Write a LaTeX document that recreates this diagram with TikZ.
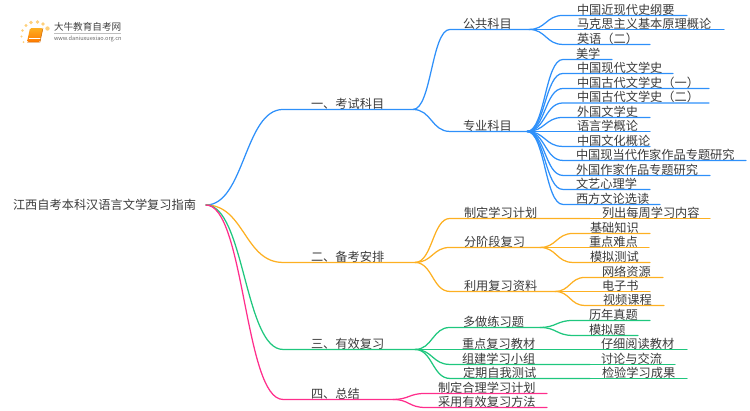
\documentclass[tikz,border=0pt]{standalone}
\usepackage{fontspec}
\setmainfont{Noto Sans CJK SC}
\usetikzlibrary{calc}
\definecolor{cb}{HTML}{2E90FA}
\definecolor{co}{HTML}{FDB022}
\definecolor{cg}{HTML}{1FC77E}
\definecolor{cp}{HTML}{FF2E8C}
\definecolor{tx}{HTML}{3A3A3A}
\tikzset{
  lab/.style={anchor=west,inner sep=0pt,outer sep=0pt,text=tx,font=\fontsize{12.2}{12.2}\selectfont},
  wire/.style={line width=1.25pt,line cap=round,line join=round},
  dotm/.style={fill=#1,draw=none,opacity=.85}
}
% colour, from, bend end, line end
\newcommand\conn[4]{\draw[wire,#1] (#2) let \p1=(#2),\p2=(#3) in .. controls ({(\x1+\x2)/2},\y1) and ({(\x1+\x2)/2},\y2) .. (#3) -- (#4);}
% name, text x, line y, line start x, line end x, text
\newcommand\bitem[6]{\coordinate (#1s) at (#4,#3+.45); \coordinate (#1e) at (#5,#3+.45); \node[lab] (#1) at (#2,#3-5.6) {#6};}
\begin{document}
\begin{tikzpicture}[x=1pt,y=-1pt]
\useasboundingbox (0,0) rectangle (750,410);
% logo
\foreach \a/\b/\r in {26/25.5/1.6,31/22.5/1.8,37.5/22/1.9,43/24/1.9,47.5/28.5/2.2,22.5/30.5/1.4,21.5/36.5/1.2,23.5/42/1}
  \fill[dotm=co!70] (\a,\b) circle (\r);
\shade[top color=co,bottom color=orange!95!red,rounded corners=1.5pt] (30,28) -- (43,28) -- (40,42) -- (27,42) -- cycle;
\draw[white,line width=.6pt] (29,38.5) -- (40.5,38.5);
\draw[orange!80!black,line width=.5pt] (27,42) -- (40,42) -- (43,28);
\node[lab,text=black!75,font=\fontsize{9.6}{10}\selectfont] (logoa) at (54,27) {大牛教育自考网};
\draw[black!25,line width=.4pt] (54,33) -- (121,33);
\node[lab,text=black!60,font=\fontsize{5.6}{6}\selectfont] (logob) at (54,38.5) {www.daniuxuexiao.org.cn};
% root
\node[lab] (root) at (13,205) {江西自考本科汉语言文学复习指南};
\coordinate (r) at (206,205);
% level 1
\bitem{A}{311}{109}{283}{413}{一、考试科目}
\bitem{B}{311}{262}{283}{415}{二、备考安排}
\bitem{C}{311}{349}{283}{415}{三、有效复习}
\bitem{D}{311}{399}{283}{393}{四、总结}
\conn{cb}{r}{As}{Ae}
\conn{co}{r}{Bs}{Be}
\conn{cg}{r}{Cs}{Ce}
\conn{cp}{r}{Ds}{De}
% blue
\bitem{a1}{463}{29}{450}{529}{公共科目}
\bitem{a2}{463}{131}{450}{527}{专业科目}
\conn{cb}{Ae}{a1s}{a1e}
\conn{cb}{Ae}{a2s}{a2e}
\bitem{p1}{577}{15}{563}{687}{中国近现代史纲要}
\bitem{p2}{577}{29}{563}{724}{马克思主义基本原理概论}
\bitem{p3}{577}{44}{563}{650}{英语（二）}
\foreach \kk in {p1,p2,p3} {\conn{cb}{a1e}{\kk s}{\kk e}}
\bitem{q1}{576}{59}{563}{612}{美学}
\bitem{q2}{577}{73}{563}{673}{中国现代文学史}
\bitem{q3}{577}{88}{563}{709}{中国古代文学史（一）}
\bitem{q4}{577}{102.5}{563}{709}{中国古代文学史（二）}
\bitem{q5}{577}{117}{563}{650}{外国文学史}
\bitem{q6}{577}{131}{563}{650}{语言学概论}
\bitem{q7}{577}{146}{563}{650}{中国文化概论}
\bitem{q8}{576}{160}{563}{746}{中国现当代作家作品专题研究}
\bitem{q9}{576}{175}{563}{710}{外国作家作品专题研究}
\bitem{q10}{576}{189}{563}{650}{文艺心理学}
\bitem{q11}{576}{204}{563}{660}{西方文论选读}
\foreach \kk in {q1,q2,q3,q4,q5,q6,q7,q8,q9,q10,q11} {\conn{cb}{a2e}{\kk s}{\kk e}}
% orange
\bitem{b1}{464}{218}{450}{590}{制定学习计划}
\bitem{b2}{464}{247}{450}{540}{分阶段复习}
\bitem{b3}{464}{291}{450}{555}{利用复习资料}
\foreach \kk in {b1,b2,b3} {\conn{co}{Be}{\kk s}{\kk e}}
\bitem{b1a}{602}{218}{590}{710}{列出每周学习内容}
\draw[wire,co] (b1e) -- (b1as) -- (b1ae);
\bitem{s1}{590}{233}{573}{650}{基础知识}
\bitem{s2}{589}{247}{573}{649}{重点难点}
\bitem{s3}{590}{262}{573}{650}{模拟测试}
\foreach \kk in {s1,s2,s3} {\conn{co}{b2e}{\kk s}{\kk e}}
\bitem{t1}{602}{277}{585}{663}{网络资源}
\bitem{t2}{602}{291}{585}{650}{电子书}
\bitem{t3}{603}{305}{585}{664}{视频课程}
\foreach \kk in {t1,t2,t3} {\conn{co}{b3e}{\kk s}{\kk e}}
% green
\bitem{c1}{463}{327}{450}{540}{多做练习题}
\bitem{c2}{462}{349}{450}{590}{重点复习教材}
\bitem{c3}{462}{364}{450}{590}{组建学习小组}
\bitem{c4}{463}{378}{450}{590}{定期自我测试}
\foreach \kk in {c1,c2,c3,c4} {\conn{cg}{Ce}{\kk s}{\kk e}}
\bitem{u1}{589}{320}{573}{650}{历年真题}
\bitem{u2}{589}{335}{573}{638}{模拟题}
\foreach \kk in {u1,u2} {\conn{cg}{c1e}{\kk s}{\kk e}}
\bitem{v2}{601}{349}{590}{687}{仔细阅读教材}
\bitem{v3}{601}{364}{590}{675}{讨论与交流}
\bitem{v4}{602}{378}{590}{687}{检验学习成果}
\draw[wire,cg] (c2e) -- (v2s) -- (v2e);
\draw[wire,cg] (c3e) -- (v3s) -- (v3e);
\draw[wire,cg] (c4e) -- (v4s) -- (v4e);
% pink
\bitem{d1}{438}{393}{425}{547}{制定合理学习计划}
\bitem{d2}{438}{407}{425}{547}{采用有效复习方法}
\foreach \kk in {d1,d2} {\conn{cp}{De}{\kk s}{\kk e}}
\end{tikzpicture}
\end{document}
